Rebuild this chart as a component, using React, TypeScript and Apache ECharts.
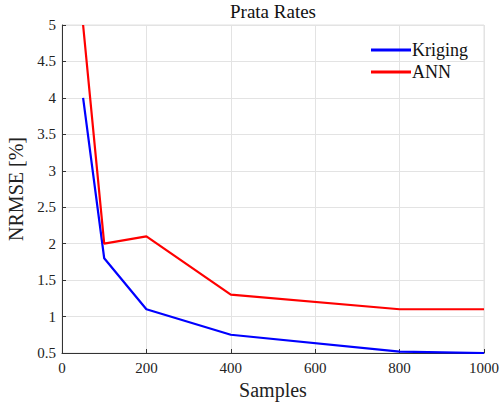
import React, { useEffect, useRef } from "react";
import * as echarts from "echarts";

const samples = [50, 100, 200, 400, 800, 1000];
const kriging = [4.0, 1.8, 1.1, 0.75, 0.52, 0.5];
const ann = [5.0, 2.0, 2.1, 1.3, 1.1, 1.1];
const xTicks = [0, 200, 400, 600, 800, 1000];
const yTicks = [0.5, 1, 1.5, 2, 2.5, 3, 3.5, 4, 4.5, 5];

const FONT = "Liberation Serif";

export default function App() {
  const ref = useRef<HTMLDivElement>(null);
  useEffect(() => {
    if (!ref.current) return;
    const chart = echarts.init(ref.current, undefined, { renderer: "svg" });
    chart.setOption({
      animation: false,
      backgroundColor: "#ffffff",
      textStyle: { fontFamily: FONT },
      title: {
        text: "Prata Rates",
        left: 273,
        top: 2,
        padding: 0,
        textAlign: "center",
        textStyle: { fontFamily: FONT, fontSize: 19, fontWeight: "normal", color: "#111" },
      },
      legend: {
        orient: "vertical",
        left: 366,
        top: 36,
        itemWidth: 40,
        itemHeight: 3,
        itemGap: 4,
        icon: "rect",
        textStyle: { fontFamily: FONT, fontSize: 18, color: "#111", padding: [0, 0, 0, -4] },
        data: ["Kriging", "ANN"],
      },
      grid: {
        left: 62,
        right: 16,
        top: 25,
        bottom: 52,
        containLabel: false,
        outerBoundsMode: "none",
        show: true,
        borderColor: "#e0e0e0",
        borderWidth: 1,
      },
      xAxis: {
        type: "value",
        min: 0,
        max: 1000,
        interval: 200,
        name: "Samples",
        nameLocation: "middle",
        nameGap: 26,
        nameTextStyle: { fontFamily: FONT, fontSize: 20, color: "#222" },
        axisLine: { show: true, lineStyle: { color: "#333", width: 1 } },
        axisTick: { show: true, inside: true, length: 4, lineStyle: { color: "#333" } },
        axisLabel: {
          fontFamily: FONT,
          fontSize: 15,
          color: "#222",
          margin: 7,
          formatter: (v: number) => (xTicks.includes(v) ? String(v) : ""),
        },
        splitLine: { show: true, lineStyle: { color: "#e3e3e3", width: 1 } },
      },
      yAxis: {
        type: "value",
        min: 0.5,
        max: 5,
        interval: 0.5,
        name: "NRMSE [%]",
        nameLocation: "middle",
        nameGap: 34,
        nameTextStyle: { fontFamily: FONT, fontSize: 20, color: "#222" },
        axisLine: { show: true, lineStyle: { color: "#333", width: 1 } },
        axisTick: { show: true, inside: true, length: 4, lineStyle: { color: "#333" } },
        axisLabel: {
          fontFamily: FONT,
          fontSize: 15,
          color: "#222",
          margin: 6,
          formatter: (v: number) => {
            const t = yTicks.find((y) => Math.abs(y - v) < 1e-9);
            return t === undefined ? "" : String(t);
          },
        },
        splitLine: { show: true, lineStyle: { color: "#e3e3e3", width: 1 } },
      },
      series: [
        {
          name: "Kriging",
          type: "line",
          data: samples.map((s, i) => [s, kriging[i]]),
          showSymbol: false,
          symbol: "none",
          lineStyle: { color: "#0000ff", width: 2.2 },
          itemStyle: { color: "#0000ff" },
        },
        {
          name: "ANN",
          type: "line",
          data: samples.map((s, i) => [s, ann[i]]),
          showSymbol: false,
          symbol: "none",
          lineStyle: { color: "#ff0000", width: 2.2 },
          itemStyle: { color: "#ff0000" },
        },
      ],
    });
    return () => chart.dispose();
  }, []);
  return <div ref={ref} style={{ width: 500, height: 405, position: "absolute", left: 0, top: 0 }} />;
}
